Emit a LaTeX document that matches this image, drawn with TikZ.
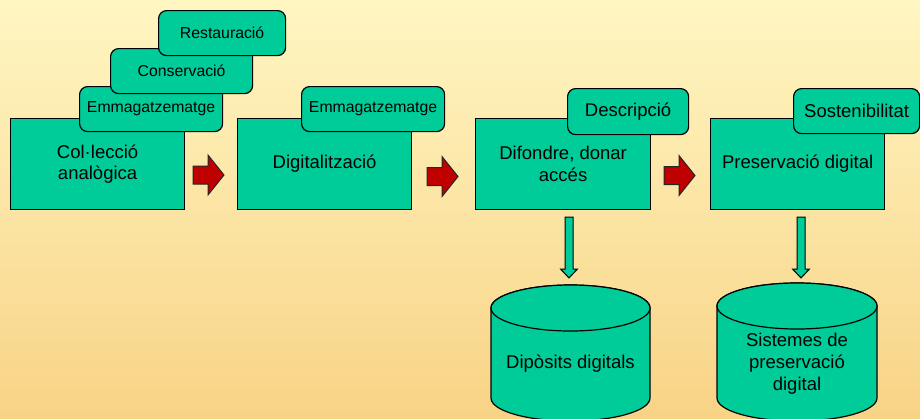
\documentclass[tikz,border=0pt]{standalone}
\usepackage{fontspec}
\setmainfont{Liberation Sans}
\definecolor{grn}{HTML}{00CC99}
\definecolor{redA}{HTML}{C00000}
\definecolor{bgtop}{HTML}{FFF6C2}
\definecolor{bgbot}{HTML}{F8D386}
\begin{document}
\begin{tikzpicture}[x=1pt,y=-1pt,
  box/.style={draw=black, line width=1.2pt, fill=grn, inner sep=0pt, align=center, anchor=north west,
    font=\fontsize{18.5}{21.5}\selectfont},
  tab/.style={box, rounded corners=8pt, font=\fontsize{15.8}{18}\selectfont},
  bigtab/.style={box, rounded corners=8pt},
  redarrow/.style={draw=black!85, fill=redA, line width=1pt, line join=miter},
  grnarrow/.style={draw=black, fill=grn, line width=1pt},
  cyl/.style={draw=black, fill=grn, line width=1.2pt},
  lbl/.style={align=center, font=\fontsize{18.5}{22}\selectfont}]
\useasboundingbox (0,0) rectangle (920,418);
\shade[top color=bgtop, bottom color=bgbot] (0,0) rectangle (920,418);

% stage 1
\node[box, minimum width=174pt, minimum height=91pt] (c1) at (10,118) {Col·lecció\\analògica};
\node[tab, minimum width=143pt, minimum height=45pt] (e1) at (79,86) {Emmagatzematge};
\node[tab, minimum width=142pt, minimum height=45pt] (cons) at (110,48) {Conservació};
\node[tab, minimum width=127pt, minimum height=45pt] (rest) at (158,10) {Restauració};

% stage 2
\node[box, minimum width=174pt, minimum height=91pt] (c2) at (237,118) {Digitalització};
\node[tab, minimum width=143pt, minimum height=45pt] (e2) at (301,86) {Emmagatzematge};

% stage 3
\node[box, minimum width=175pt, minimum height=91pt] (c3) at (475,118) {Difondre, donar\\accés};
\node[bigtab, minimum width=121pt, minimum height=46pt] (desc) at (567,88) {Descripció};

% stage 4
\node[box, minimum width=174pt, minimum height=91pt] (c4) at (710,118) {Preservació digital};
\node[bigtab, minimum width=126pt, minimum height=45pt] (sost) at (793,88) {Sostenibilitat};

% red arrows
\path[redarrow] (193,166) -- (208,166) -- (208,155) -- (224,175) -- (208,195) -- (208,184) -- (193,184) -- cycle;
\path[redarrow] (427,167.5) -- (442,167.5) -- (442,156.5) -- (458,176.5) -- (442,196.5) -- (442,185.5) -- (427,185.5) -- cycle;
\path[redarrow] (664,166.5) -- (679,166.5) -- (679,155.5) -- (695,175.5) -- (679,195.5) -- (679,184.5) -- (664,184.5) -- cycle;

% green arrows
\path[grnarrow] (565,217) -- (573,217) -- (573,269) -- (577.5,269) -- (569,278) -- (560.5,269) -- (565,269) -- cycle;
\path[grnarrow] (797,217) -- (805,217) -- (805,269) -- (809.5,269) -- (801,278) -- (792.5,269) -- (797,269) -- cycle;

% cylinders
\path[cyl] (491,308) -- (491,398) arc[start angle=180, end angle=0, x radius=79.5, y radius=23]
  -- (650,308) arc[start angle=0, end angle=-180, x radius=79.5, y radius=23] -- cycle;
\draw[cyl] (570.5,308) ellipse [x radius=79.5, y radius=23];
\node[lbl] (dip) at (570.5,364) {Dipòsits digitals};

\path[cyl] (717,306) -- (717,398) arc[start angle=180, end angle=0, x radius=80, y radius=23]
  -- (877,306) arc[start angle=0, end angle=-180, x radius=80, y radius=23] -- cycle;
\draw[cyl] (797,306) ellipse [x radius=80, y radius=23];
\node[lbl] (sis) at (797,364) {Sistemes de\\preservació\\digital};
\end{tikzpicture}
\end{document}
